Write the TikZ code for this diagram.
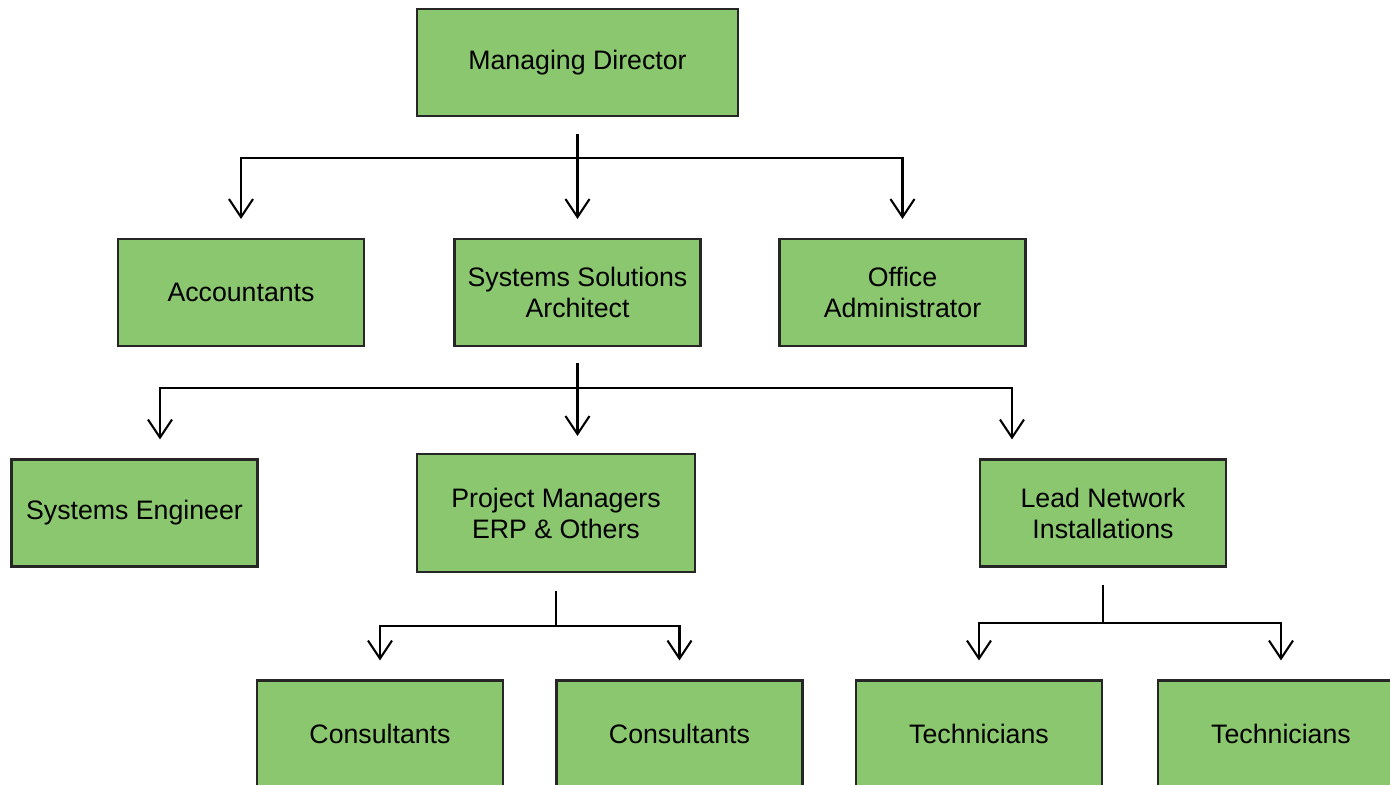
\documentclass[tikz,border=0pt]{standalone}
\usepackage{fontspec}
\setmainfont{Liberation Sans}
\usetikzlibrary{arrows.meta}
\definecolor{boxgreen}{RGB}{138,199,110}
\begin{document}
\begin{tikzpicture}[
    box/.style={draw=black!85, line width=0.6pt, fill=boxgreen, minimum width=2.46cm,
        minimum height=1.07cm, align=center, font=\fontsize{7.6}{8.8}\selectfont},
    link/.style={line width=0.6pt},
    arr/.style={link, -{Straight Barb[length=1.8mm,width=2.4mm]}, shorten >=0.19cm}
]
    % Fix the page size
    \useasboundingbox (0,0) rectangle (13.9,-7.85);
    \clip (0,0) rectangle (13.9,-7.85);

    % Heights of the horizontal bars
    \coordinate (bus1) at (0,-1.58);
    \coordinate (bus2) at (0,-3.88);
    \coordinate (bus3) at (0,-6.26);
    \coordinate (bus4) at (0,-6.23);

    % Draw the boxes
    \node[box, minimum width=3.21cm] (md) at (5.775,-0.625) {Managing Director};
    \node[box] (acc) at (2.41,-2.925) {Accountants};
    \node[box] (ssa) at (5.775,-2.925) {Systems Solutions\\Architect};
    \node[box] (oa) at (9.025,-2.925) {Office\\Administrator};
    \node[box] (se) at (1.345,-5.13) {Systems Engineer};
    \node[box, minimum width=2.78cm, minimum height=1.18cm] (pm) at (5.56,-5.13) {Project Managers\\ERP \& Others};
    \node[box] (lni) at (11.03,-5.13) {Lead Network\\Installations};
    \node[box] (con1) at (3.80,-7.34) {Consultants};
    \node[box] (con2) at (6.795,-7.34) {Consultants};
    \node[box] (tec1) at (9.79,-7.34) {Technicians};
    \node[box] (tec2) at (12.81,-7.34) {Technicians};

    % Managing Director to the first row
    \draw[arr, shorten <=0.17cm] (md.south) -- (ssa.north);
    \draw[link] (md.south |- bus1) -- (bus1 -| acc.north);
    \foreach \n in {acc, oa}
        \draw[arr] (md.south |- bus1) -| (\n.north);

    % Systems Solutions Architect to the second row
    \draw[arr, shorten <=0.16cm, shorten >=0.17cm] (ssa.south) -- (ssa.south |- pm.north);
    \draw[arr] (ssa.south |- bus2) -| ([xshift=0.255cm]se.north);
    \draw[arr] (ssa.south |- bus2) -| ([xshift=-0.91cm]lni.north);

    % Project Managers to the consultants
    \draw[link, shorten <=0.18cm] (pm.south) -- (pm.south |- bus3);
    \foreach \n in {con1, con2}
        \draw[arr] (pm.south |- bus3) -| (\n.north);

    % Lead Network Installations to the technicians
    \draw[link, shorten <=0.17cm] (lni.south) -- (lni.south |- bus4);
    \foreach \n in {tec1, tec2}
        \draw[arr] (lni.south |- bus4) -| (\n.north);
\end{tikzpicture}
\end{document}
